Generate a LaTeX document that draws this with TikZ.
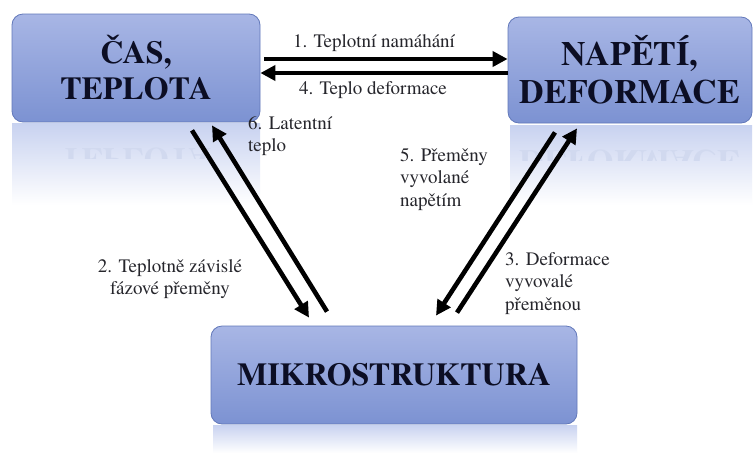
\documentclass[tikz,border=0pt]{standalone}
\usepackage{fontspec}
\setmainfont{texgyretermes}[Extension=.otf, UprightFont=*-regular, BoldFont=*-bold, ItalicFont=*-italic, BoldItalicFont=*-bolditalic]
\usetikzlibrary{arrows.meta,calc}
\definecolor{boxtop}{RGB}{168,182,229}
\definecolor{boxbot}{RGB}{124,146,210}
\definecolor{boxedge}{RGB}{98,120,186}
\definecolor{refl}{RGB}{200,210,240}
\definecolor{txtdark}{RGB}{12,14,36}
\definecolor{labtxt}{RGB}{38,38,44}
\tikzset{
  bigbox/.style={rounded corners=11pt, draw=boxedge, line width=0.8pt,
    top color=boxtop, bottom color=boxbot, align=center, inner sep=0pt,
    text=txtdark, font=\bfseries\fontsize{32}{36}\selectfont},
  arr/.style={line width=4.6pt, draw=black, -{Triangle[length=15pt,width=15pt]}},
  lab/.style={text=labtxt, font=\fontsize{19}{22.5}\selectfont, inner sep=0pt},
  reflbox/.style={top color=refl, bottom color=white, draw=none},
  refltext/.style={text=boxbot!35!white, font=\bfseries\fontsize{32}{36}\selectfont, inner sep=0pt}
}
\begin{document}
\begin{tikzpicture}[x=1pt,y=-1pt]
\useasboundingbox[fill=white] (0,0) rectangle (754,453);
% reflections
\shade[reflbox] (12,123) rectangle (260,205);
\shade[reflbox] (510,125) rectangle (752,205);
\shade[reflbox] (213,425) rectangle (577,453);
\begin{scope}
\clip (12,140) rectangle (260,158);
\node[refltext, yscale=-1, transform shape, anchor=base] (r1) at (136,148) {TEPLOTA};
\end{scope}
\begin{scope}
\clip (510,142) rectangle (752,160);
\node[refltext, yscale=-1, transform shape, anchor=base, font=\bfseries\fontsize{34}{38}\selectfont] (r2) at (630,150) {DEFORMACE};
\end{scope}
% boxes
\node[bigbox, minimum width=248pt, minimum height=108pt] (b1) at (136,68) {ČAS,\\TEPLOTA};
\node[bigbox, minimum width=244pt, minimum height=106pt, font=\bfseries\fontsize{34}{38}\selectfont] (b2) at (630,70) {NAPĚTÍ,\\DEFORMACE};
\node[bigbox, minimum width=366pt, minimum height=98pt] (b3) at (394,375) {MIKROSTRUKTURA};
% horizontal arrows
\draw[arr] ([xshift=4pt,yshift=9pt]b1.east) -- ([yshift=11pt]b2.west);
\draw[arr] ([yshift=-3pt]b2.west) -- ([yshift=-5pt]b1.east);
% left pair
\draw[arr] ([xshift=56pt,yshift=-8pt]b1.south) -- ([xshift=-85pt,yshift=8pt]b3.north);
\draw[arr] ([xshift=-67pt,yshift=14pt]b3.north) -- ([xshift=76pt,yshift=-3pt]b1.south);
% right pair
\draw[arr] ([xshift=-75pt,yshift=-9pt]b2.south) -- ([xshift=42pt,yshift=10pt]b3.north);
\draw[arr] ([xshift=63pt,yshift=13pt]b3.north) -- ([xshift=-53pt,yshift=-5pt]b2.south);
% labels
\node[lab] (l1) at (374,43) {1. Teplotní namáhání};
\node[lab] (l4) at (373,90) {4. Teplo deformace};
\node[lab, anchor=north west, align=left] (l6) at (248,116) {6. Latentní\\teplo};
\node[lab, align=center] (l2) at (170,279) {2. Teplotně závislé\\fázové přeměny};
\node[lab, anchor=north west, align=left] (l5) at (400,148) {5. Přeměny\\vyvolané\\napětím};
\node[lab, anchor=north west, align=left] (l3) at (505,252) {3. Deformace\\vyvovalé\\přeměnou};
\end{tikzpicture}
\end{document}
